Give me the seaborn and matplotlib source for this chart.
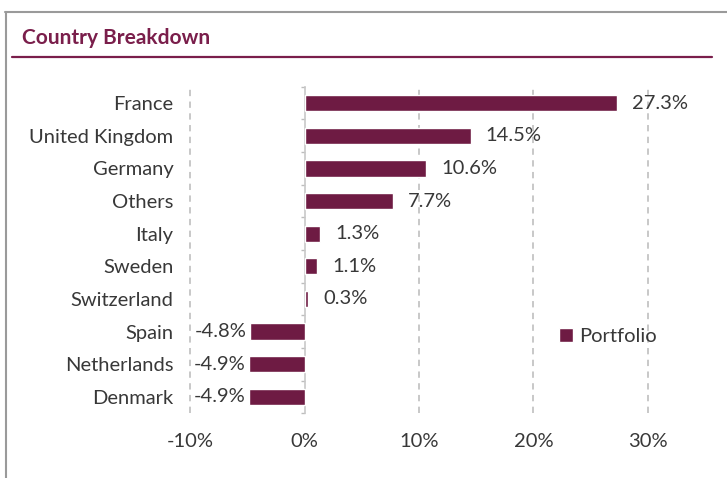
import matplotlib
matplotlib.use("Agg")
import matplotlib.pyplot as plt
import seaborn as sns
import pandas as pd
from matplotlib.lines import Line2D
from matplotlib.ticker import FuncFormatter

countries = ["France", "United Kingdom", "Germany", "Others", "Italy",
             "Sweden", "Switzerland", "Spain", "Netherlands", "Denmark"]
weights = [27.3, 14.5, 10.6, 7.7, 1.3, 1.1, 0.3, -4.8, -4.9, -4.9]
series_name = "Portfolio"
x_ticks = [-10, 0, 10, 20, 30]

bar_color = "#6E1B43"
title_color = "#7A1E4B"
text_color = "#383838"
fs = 14.5

sns.set_theme(style="white")
plt.rcParams["font.family"] = ["Lato", "DejaVu Sans"]

df = pd.DataFrame({"Country": countries, "Weight": weights, "Series": series_name})

fig = plt.figure(figsize=(7.27, 4.78), dpi=100)
xmin, xmax = -10.5, 34
ax = fig.add_axes([0.254, 0.1354, 0.700, 0.6832])

sns.barplot(data=df, x="Weight", y="Country", hue="Series", orient="h",
            palette=[bar_color], width=0.5, ax=ax, saturation=1)
ax.set_xlim(xmin, xmax)
ax.set_ylim(len(countries) - 0.5, -0.5)

# dashed vertical grid lines
ax.set_xticks(x_ticks)
ax.xaxis.set_major_formatter(FuncFormatter(lambda v, p: f"{v:.0f}%"))
for t in x_ticks:
    if t != 0:
        ax.axvline(t, color="#C4C4C4", linestyle=(0, (3.5, 3)), linewidth=1.3, zorder=0)

for s in ax.spines.values():
    s.set_visible(False)

ax.tick_params(axis="both", length=0, labelsize=fs, colors=text_color, pad=8)
ax.tick_params(axis="x", pad=14)
ax.set_xlabel("")
ax.set_ylabel("")

# zero axis with small category ticks
zero_loc = (0 - xmin) / (xmax - xmin)
sec = ax.secondary_yaxis(zero_loc)
sec.set_yticks([i + 0.5 for i in range(-1, len(countries))])
sec.set_yticklabels([])
sec.tick_params(length=3, color="#BDBDBD", width=1)
sec.spines["left"].set_color("#C8C8C8")
sec.spines["left"].set_linewidth(1.2)

# value labels
for i, v in enumerate(weights):
    if v >= 0:
        ax.annotate(f"{v:.1f}%", xy=(v, i), xytext=(11, 0), textcoords="offset points",
                    ha="left", va="center", fontsize=fs, color=text_color)
    else:
        ax.annotate(f"{v:.1f}%", xy=(v, i), xytext=(-2, 0), textcoords="offset points",
                    ha="right", va="center", fontsize=fs, color=text_color)

leg = ax.legend(loc="center left", bbox_to_anchor=(0.72, 0.235), frameon=False,
                handlelength=0.7, handleheight=0.7, handletextpad=0.3,
                fontsize=fs, borderaxespad=0)
for txt in leg.get_texts():
    txt.set_color(text_color)

# frame and title
fig.add_artist(Line2D([0.007, 1.0], [1 - 12 / 478, 1 - 12 / 478], color="#9A9A9A", linewidth=1.5))
fig.add_artist(Line2D([0.008, 0.008], [0, 1 - 12 / 478], color="#9A9A9A", linewidth=1.5))
fig.text(22 / 727, 1 - 38 / 478, "Country Breakdown", fontsize=15, fontweight="bold",
         color=title_color, ha="left", va="center")
fig.add_artist(Line2D([12 / 727, 712 / 727], [1 - 57 / 478, 1 - 57 / 478], color=title_color, linewidth=1.6))

fig.savefig("out.png", dpi=100)
